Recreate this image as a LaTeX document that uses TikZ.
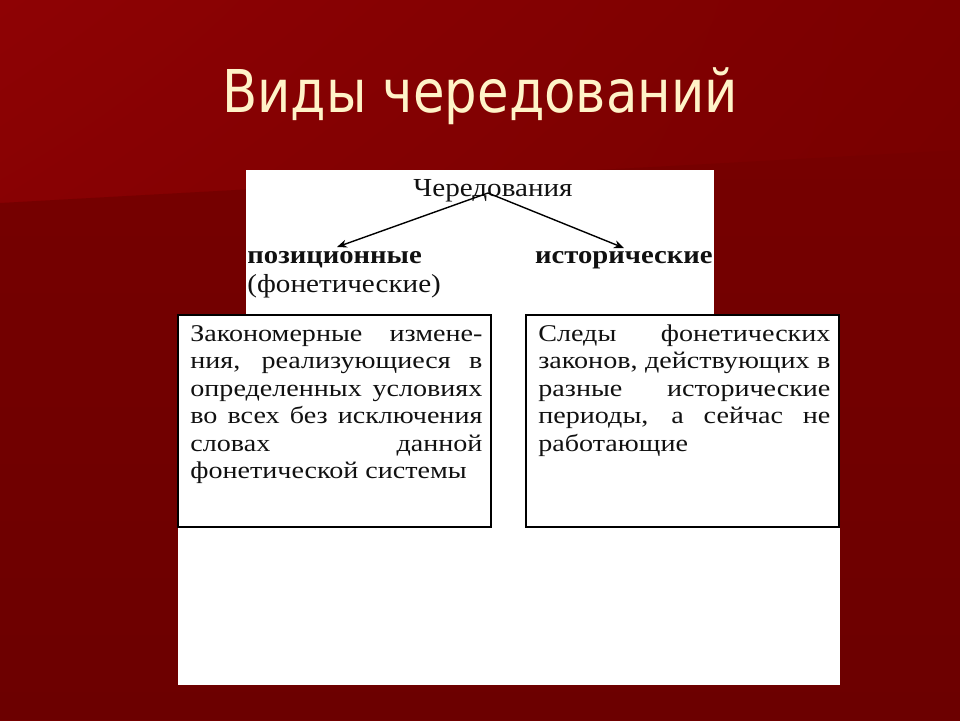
\documentclass[tikz,border=0pt]{standalone}
\usepackage{fontspec}
\setmainfont{Liberation Serif}
\newfontfamily\titlefont{DejaVu Sans}
\usetikzlibrary{arrows.meta,shadings}
\definecolor{bgUL}{HTML}{8E0204}
\definecolor{bgUR}{HTML}{7B0000}
\definecolor{bgLL}{HTML}{7A0000}
\definecolor{bgLR}{HTML}{700000}
\definecolor{bandT}{HTML}{760000}
\definecolor{bandB}{HTML}{6C0000}
\definecolor{titlecol}{HTML}{FFF3C8}
\definecolor{ink}{HTML}{111111}
\newcommand{\sxlbl}[1]{\scalebox{1.12}[1]{#1}}
\newcommand{\sxbox}[1]{\scalebox{1.17}[1]{#1}}
\newcommand{\jline}[1]{\makebox[124.8pt][s]{#1}}
\begin{document}
\begin{tikzpicture}[x=0.5pt,y=-0.5pt,
  titlestyle/.style={text=titlecol,font=\titlefont\fontsize{29.5}{34}\selectfont,inner sep=0pt},
  lbl/.style={text=ink,font=\fontsize{13}{15}\selectfont,inner sep=0pt},
  blbl/.style={text=ink,font=\bfseries\fontsize{12.8}{15}\selectfont,inner sep=0pt},
  boxtext/.style={text=ink,inner sep=0pt,anchor=base west},
  frame/.style={draw=black,line width=0.65pt,minimum width=156.5pt,minimum height=106pt,inner sep=0pt},
  arr/.style={line width=0.7pt,-{Stealth[length=5pt,width=4pt]}}]
\useasboundingbox (0,0) rectangle (960,720);
% background
\shade[upper left=bgUL,upper right=bgUR,lower left=bgLL,lower right=bgLR] (0,0) rectangle (960,720);
\shade[top color=bandT,bottom color=bandB] (0,203) -- (960,150) -- (960,720) -- (0,720) -- cycle;
% title
\node[titlestyle,anchor=base] (title) at (480,112) {\scalebox{0.87}[1]{Виды чередований}};
% white panels
\fill[white] (246,170) rectangle (714,314);
\fill[white] (178,314) rectangle (840,685);
% top texts
\node[lbl,anchor=base] (ch) at (493,196) {\sxlbl{Чередования}};
\node[blbl,anchor=base west] (pos) at (247,263) {\sxlbl{позиционные}};
\node[lbl,anchor=base west] (fon) at (247,292) {\sxlbl{(фонетические)}};
\node[blbl,anchor=base east] (ist) at (713,263) {\sxlbl{исторические}};
\coordinate (src) at (488,193);
\coordinate (tipL) at (337,247);
\coordinate (tipR) at (624,248);
\draw[arr] (src) -- (tipL);
\draw[arr] (src) -- (tipR);
% boxes
\node[frame] (lbox) at (334.5,421) {};
\node[frame] (rbox) at (682.5,421) {};
\node[boxtext] (ltext) at (190,341) {\sxbox{\parbox[t]{124.8pt}{\fontsize{12}{13.75}\selectfont
\jline{Закономерные измене-}\\
\jline{ния, реализующиеся в}\\
\jline{определенных условиях}\\
\jline{во всех без исключения}\\
\jline{словах данной}\\
фонетической системы}}};
\node[boxtext] (rtext) at (538,341) {\sxbox{\parbox[t]{124.8pt}{\fontsize{12}{13.75}\selectfont
\jline{Следы фонетических}\\
\jline{законов, действующих в}\\
\jline{разные исторические}\\
\jline{периоды, а сейчас не}\\
работающие}}};
\end{tikzpicture}
\end{document}
